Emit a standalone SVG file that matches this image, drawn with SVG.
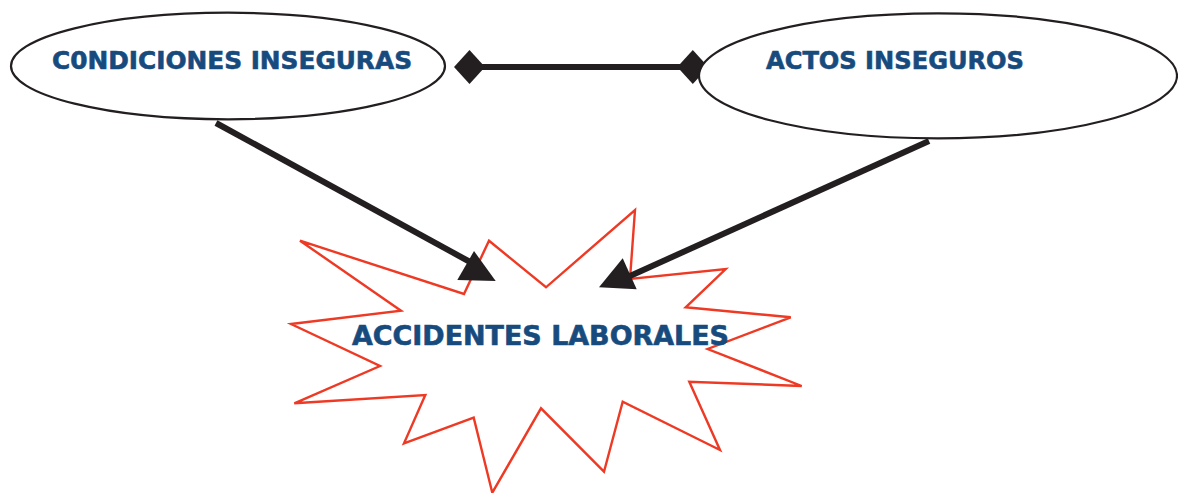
<svg xmlns="http://www.w3.org/2000/svg" width="1178" height="493" viewBox="0 0 1178 493">
<style>
.lbl{font-family:"DejaVu Sans","Verdana",sans-serif;font-weight:bold;fill:#174b7e;stroke:#174b7e;stroke-width:0.6}
.ell{fill:#fff;stroke:#231f20;stroke-width:2.2}
.con{stroke:#231f20;stroke-width:6;fill:none}
.head{fill:#231f20;stroke:none}
</style>
<rect width="1178" height="493" fill="#fff"/>
<g id="accidentes">
<polygon points="300,240.7 464,294 489,240.7 546,287.3 635,210 630,279 725.7,269 685.7,307.3 790.7,317.3 707.7,349 801.7,386 689.3,381.7 720,450 622.7,401.7 604,471.7 541,408.3 492.3,492.7 473.7,417.7 404,443.3 425.3,395 294.3,403.3 380,366 291,324 401,310.7" fill="#fff" stroke="#ee3a24" stroke-width="2.4" stroke-linejoin="miter"/>
<text class="lbl" x="352" y="345" font-size="26" textLength="377" lengthAdjust="spacingAndGlyphs">ACCIDENTES LABORALES</text>
</g>
<g id="connectors">
<line class="con" x1="216" y1="123" x2="472" y2="263"/>
<polygon class="head" points="474,251 457.3,280 495.7,281"/>
<line class="con" x1="929" y1="141" x2="630" y2="276"/>
<polygon class="head" points="622.7,258.3 599,287.3 636.7,289.3"/>
<line class="con" x1="470" y1="67" x2="693" y2="67"/>
<polygon class="head" points="454,67 469.5,50 485,67 469.5,84"/>
<polygon class="head" points="677.3,67 692.8,50 708.3,67 692.8,84"/>
</g>
<g id="condiciones">
<ellipse class="ell" cx="228" cy="66" rx="217" ry="53.3"/>
<text class="lbl" x="52" y="69" font-size="24" textLength="360" lengthAdjust="spacingAndGlyphs">C0NDICIONES INSEGURAS</text>
</g>
<g id="actos">
<ellipse class="ell" cx="938" cy="75.8" rx="239" ry="62.5"/>
<text class="lbl" x="766" y="69" font-size="24" textLength="258" lengthAdjust="spacingAndGlyphs">ACTOS INSEGUROS</text>
</g>
</svg>
